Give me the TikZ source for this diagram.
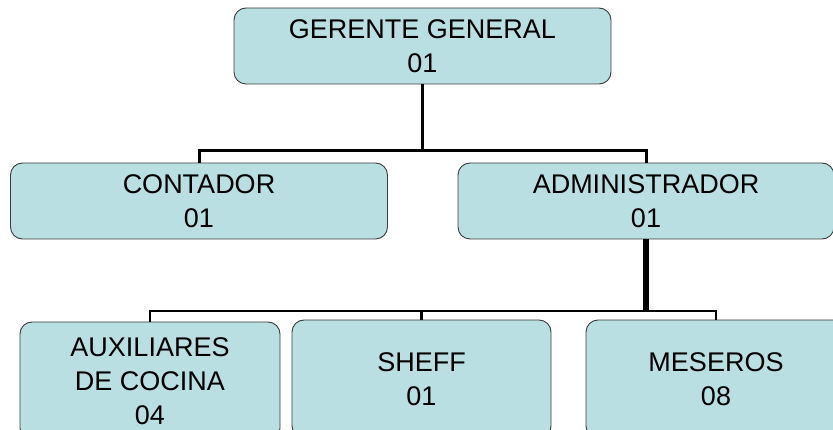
\documentclass[tikz,border=0pt]{standalone}
\usepackage{fontspec}
\setmainfont{Liberation Sans}
\definecolor{boxfill}{RGB}{185,223,226}
\definecolor{boxline}{RGB}{60,60,60}
\begin{document}
\begin{tikzpicture}[x=1pt,y=-1pt,
  orgbox/.style={draw=boxline, line width=0.9pt, fill=boxfill, rounded corners=12pt,
    align=center, inner sep=0pt, font=\fontsize{27}{34}\selectfont},
  conn/.style={draw=black, line width=3pt},
  connthick/.style={draw=black, line width=5.5pt}]
\useasboundingbox (0,0) rectangle (833,430);
\clip (0,0) rectangle (833,430);
\fill[white] (0,0) rectangle (833,430);
% boxes
\node[orgbox, minimum width=377pt, minimum height=76pt] (gg) at (422.5,46) {GERENTE GENERAL\\01};
\node[orgbox, minimum width=377pt, minimum height=76pt] (cont) at (199,201) {CONTADOR\\01};
\node[orgbox, minimum width=376pt, minimum height=76pt] (adm) at (646,201) {ADMINISTRADOR\\01};
\node[orgbox, minimum width=260pt, minimum height=118pt] (aux) at (150,381) {AUXILIARES\\DE COCINA\\04};
\node[orgbox, minimum width=259pt, minimum height=118pt] (sheff) at (421.5,379) {SHEFF\\01};
\node[orgbox, minimum width=260pt, minimum height=118pt] (mes) at (716,379) {MESEROS\\08};
% connectors level 1
\coordinate (j1) at (422.5,151);
\draw[conn] (gg.south) -- (j1);
\draw[conn] (cont.north) |- (j1) -| (adm.north);
% connectors level 2
\coordinate (j2) at (adm.south |- 0,311);
\draw[connthick] (adm.south) -- (j2);
\draw[conn, line width=2.8pt] (aux.north) |- (j2) -| (mes.north);
\draw[conn, line width=2.8pt] (sheff.north) -- (sheff.north |- j2);
\end{tikzpicture}
\end{document}
